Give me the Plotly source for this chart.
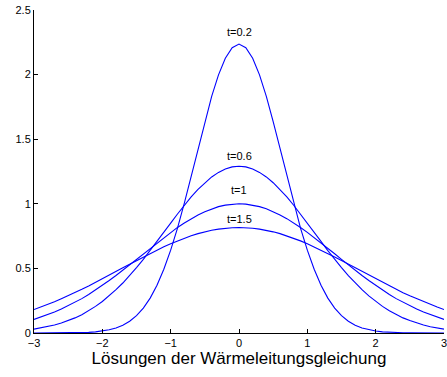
import plotly.graph_objects as go

x = [-3.0, -2.9, -2.8, -2.7, -2.6, -2.5, -2.4, -2.3, -2.2, -2.1, -2.0, -1.9, -1.8, -1.7, -1.6,
     -1.5, -1.4, -1.3, -1.2, -1.1, -1.0, -0.9, -0.8, -0.7, -0.6, -0.5, -0.4, -0.3, -0.2, -0.1,
     0.0, 0.1, 0.2, 0.3, 0.4, 0.5, 0.6, 0.7, 0.8, 0.9, 1.0, 1.1, 1.2, 1.3, 1.4, 1.5, 1.6, 1.7,
     1.8, 1.9, 2.0, 2.1, 2.2, 2.3, 2.4, 2.5, 2.6, 2.7, 2.8, 2.9, 3.0]

u_t02 = [0.0000, 0.0001, 0.0001, 0.0002, 0.0005, 0.001, 0.002, 0.003, 0.005, 0.009, 0.015,
         0.025, 0.039, 0.060, 0.091, 0.134, 0.193, 0.270, 0.370, 0.493, 0.641, 0.812, 1.005,
         1.212, 1.426, 1.636, 1.831, 1.998, 2.127, 2.208, 2.236, 2.208, 2.127, 1.998, 1.831,
         1.636, 1.426, 1.212, 1.005, 0.812, 0.641, 0.493, 0.370, 0.270, 0.193, 0.134, 0.091,
         0.060, 0.039, 0.025, 0.015, 0.009, 0.005, 0.003, 0.002, 0.001, 0.0005, 0.0002, 0.0001,
         0.0001, 0.0000]

u_t06 = [0.030, 0.039, 0.049, 0.062, 0.077, 0.096, 0.117, 0.142, 0.172, 0.206, 0.244, 0.287,
         0.335, 0.387, 0.444, 0.506, 0.570, 0.638, 0.709, 0.780, 0.851, 0.921, 0.989, 1.053,
         1.111, 1.163, 1.208, 1.243, 1.270, 1.286, 1.291, 1.286, 1.270, 1.243, 1.208, 1.163,
         1.111, 1.053, 0.989, 0.921, 0.851, 0.780, 0.709, 0.638, 0.570, 0.506, 0.444, 0.387,
         0.335, 0.287, 0.244, 0.206, 0.172, 0.142, 0.117, 0.096, 0.077, 0.062, 0.049, 0.039,
         0.030]

u_t1 = [0.105, 0.122, 0.141, 0.162, 0.185, 0.210, 0.237, 0.266, 0.298, 0.332, 0.368, 0.406,
        0.445, 0.486, 0.527, 0.570, 0.613, 0.655, 0.698, 0.739, 0.779, 0.817, 0.852, 0.885,
        0.914, 0.939, 0.961, 0.978, 0.990, 0.9975, 1.000, 0.9975, 0.990, 0.978, 0.961, 0.939,
        0.914, 0.885, 0.852, 0.817, 0.779, 0.739, 0.698, 0.655, 0.613, 0.570, 0.527, 0.486,
        0.445, 0.406, 0.368, 0.332, 0.298, 0.266, 0.237, 0.210, 0.185, 0.162, 0.141, 0.122,
        0.105]

u_t15 = [0.182, 0.201, 0.221, 0.242, 0.265, 0.288, 0.312, 0.338, 0.364, 0.391, 0.419, 0.448,
         0.476, 0.505, 0.533, 0.561, 0.589, 0.616, 0.642, 0.667, 0.691, 0.713, 0.734, 0.752,
         0.769, 0.783, 0.795, 0.804, 0.811, 0.815, 0.816, 0.815, 0.811, 0.804, 0.795, 0.783,
         0.769, 0.752, 0.734, 0.713, 0.691, 0.667, 0.642, 0.616, 0.589, 0.561, 0.533, 0.505,
         0.476, 0.448, 0.419, 0.391, 0.364, 0.338, 0.312, 0.288, 0.265, 0.242, 0.221, 0.201,
         0.182]

labels = ["t=0.2", "t=0.6", "t=1", "t=1.5"]
label_x = [0, 0, 0, 0]
label_y = [2.33, 1.37, 1.105, 0.885]

x_ticks = [-3, -2, -1, 0, 1, 2, 3]
y_ticks = [0, 0.5, 1, 1.5, 2, 2.5]
x_title = "Lösungen der Wärmeleitungsgleichung"

fig = go.Figure()
for ys in [u_t02, u_t06, u_t1, u_t15]:
    fig.add_trace(go.Scatter(x=x, y=ys, mode="lines",
                             line=dict(color="#0000FF", width=1.1),
                             showlegend=False, hoverinfo="skip"))

for lx, ly, lt in zip(label_x, label_y, labels):
    fig.add_annotation(x=lx, y=ly, text=lt, showarrow=False,
                       font=dict(family="Liberation Sans, Arial", size=11, color="black"))

fig.update_layout(
    width=447, height=377,
    margin=dict(l=34, r=3, t=10, b=44),
    paper_bgcolor="white", plot_bgcolor="white",
    font=dict(family="Liberation Sans, Arial", size=11, color="black"),
)
fig.update_xaxes(range=[-3, 3], tickvals=x_ticks, showgrid=False, zeroline=False,
                 showline=True, linecolor="black", linewidth=1,
                 ticks="inside", ticklen=4, tickcolor="black",
                 tickfont=dict(size=11), ticklabeloverflow="allow", automargin=False,
                 title=dict(text=x_title, font=dict(size=17), standoff=3))
fig.update_yaxes(range=[0, 2.5], tickvals=y_ticks, showgrid=False, zeroline=False,
                 showline=True, linecolor="black", linewidth=1,
                 ticks="inside", ticklen=4, tickcolor="black",
                 tickfont=dict(size=11), ticklabeloverflow="allow", automargin=False)

fig.write_html("out.html")
